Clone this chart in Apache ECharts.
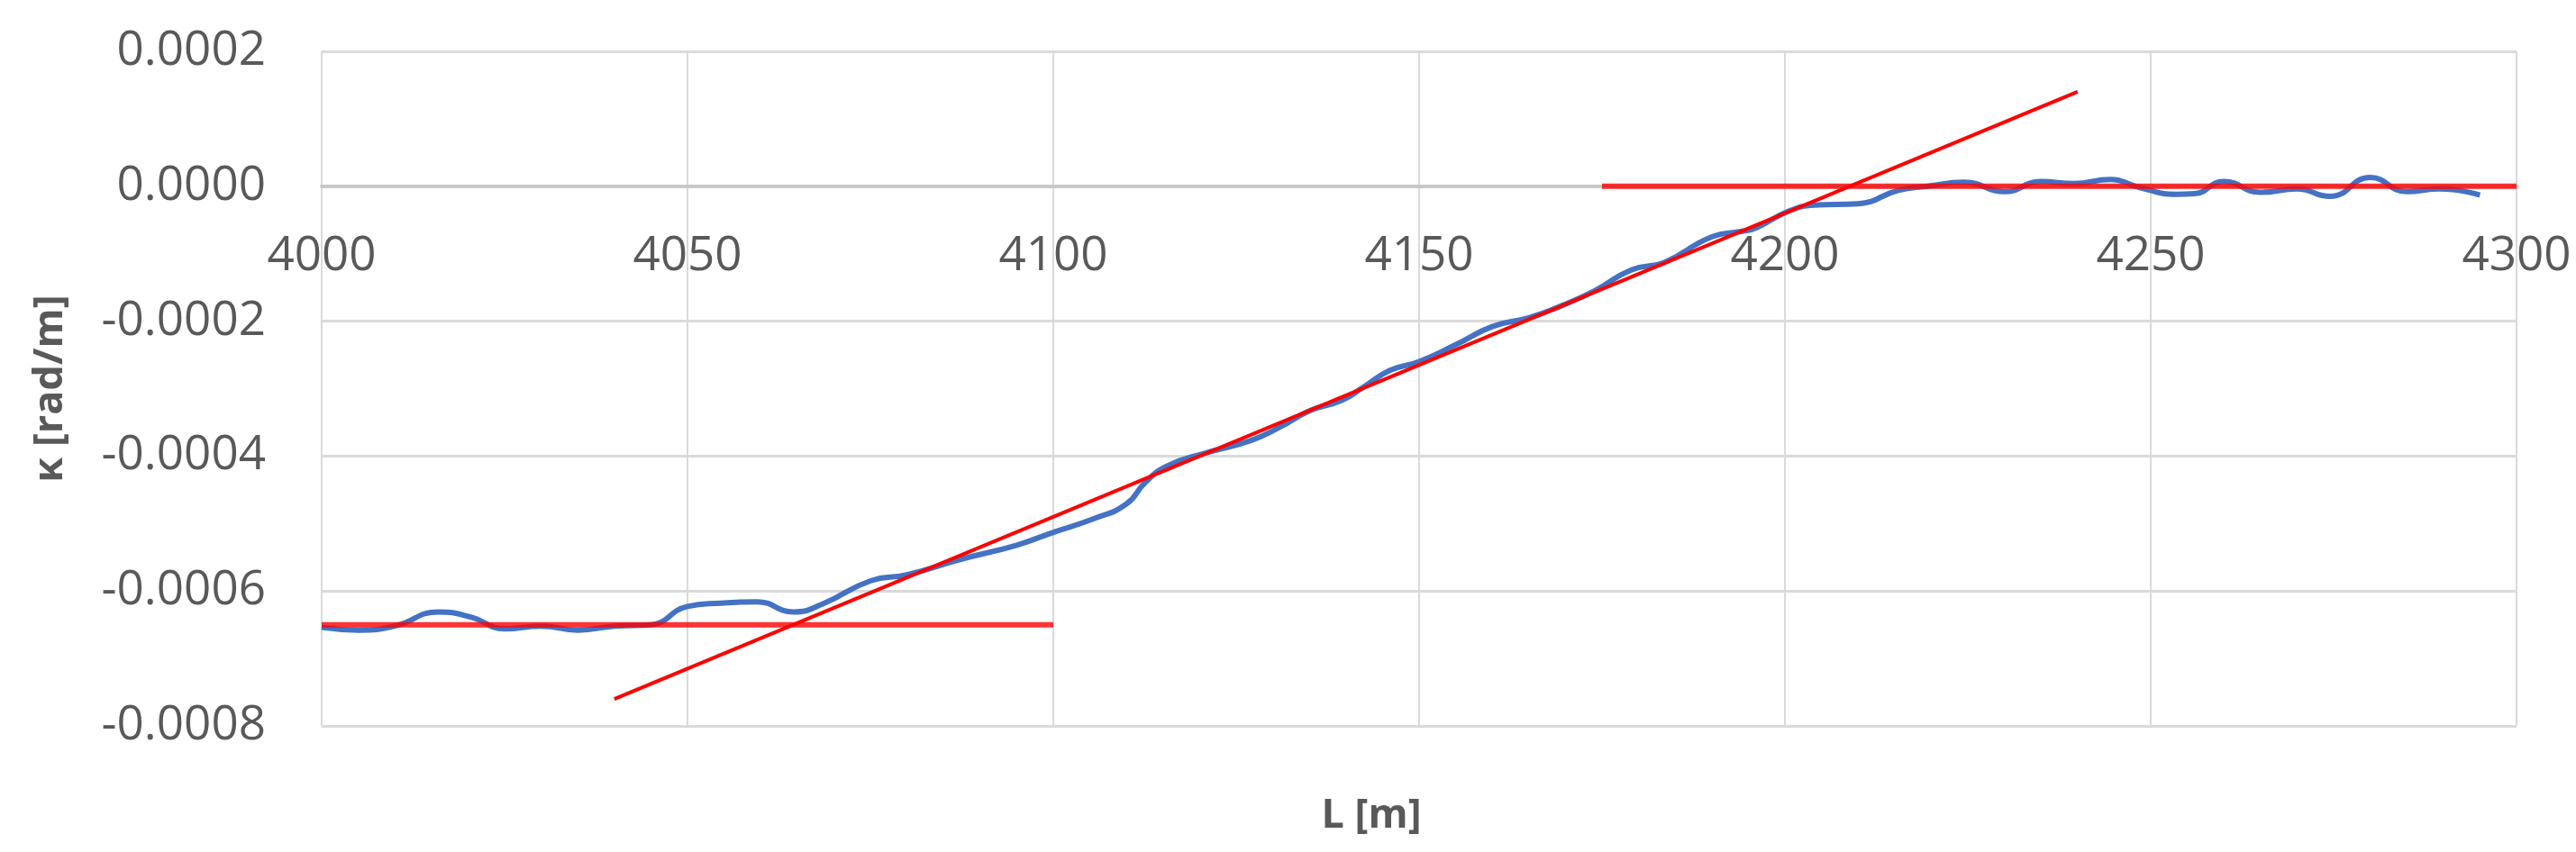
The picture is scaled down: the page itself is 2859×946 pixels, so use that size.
<!DOCTYPE html>
<html lang="en">

<head>
    <meta charset="UTF-8">
    <title>Curvature</title>
    <script src="https://cdnjs.cloudflare.com/ajax/libs/echarts/6.0.0/echarts.min.js"></script>
    <style>
        body { margin: 0; background: #fff; }
    </style>
</head>

<body>
    <div id="main" style="width: 2859px;height:946px;"></div>

    <script>
        // measured curvature (blue)
        const measL = [4000, 4005, 4010, 4016, 4020.5, 4025, 4030, 4035, 4040, 4045,
            4050, 4054.5, 4059.5, 4064.5, 4068.5, 4075, 4080, 4087, 4095, 4100,
            4105.5, 4110, 4112.5, 4115.5, 4121, 4127, 4131, 4135, 4139.5, 4142.5,
            4146, 4150, 4155, 4160, 4165, 4169.5, 4174, 4179, 4183.5, 4190,
            4194, 4196, 4200.5, 4204, 4210, 4215.5, 4219.5, 4224.5, 4230, 4235,
            4239.5, 4244.5, 4248.5, 4253.5, 4256, 4260, 4265, 4270, 4274.5, 4280,
            4285, 4289.5, 4295];
        const measK = [-0.000654, -0.000658, -0.000652, -0.000631, -0.000639, -0.000656, -0.000652, -0.000658, -0.000652, -0.00065,
            -0.000623, -0.000618, -0.000616, -0.000631, -0.000619, -0.000585, -0.000576, -0.000554, -0.000532, -0.000513,
            -0.000493, -0.000471, -0.00044, -0.000415, -0.000395, -0.000377, -0.000357, -0.000333, -0.000317, -0.000297,
            -0.000273, -0.00026, -0.000235, -0.000208, -0.000195, -0.000177, -0.000155, -0.000124, -0.000113, -0.000075,
            -0.000067, -0.000062, -0.000037, -0.000028, -0.000026, -0.000006, 0, 0.000006, -0.000008, 0.000007,
            0.000004, 0.00001, -0.000002, -0.000012, -0.000011, 0.000007, -0.000009, -0.000004, -0.000015, 0.000013,
            -0.000008, -0.000004, -0.000013];

        // fitted red lines
        const fitLeftL = [4000, 4100];
        const fitLeftK = [-0.00065, -0.00065];
        const fitRampL = [4040, 4240];
        const fitRampK = [-0.00076, 0.00014];
        const fitRightL = [4175, 4300];
        const fitRightK = [0, 0];

        const xTicks = { min: 4000, max: 4300, step: 50 };
        const yTicks = { min: -0.0008, max: 0.0002, step: 0.0002 };

        function pairs(xs, ys) {
            return xs.map((x, i) => [x, ys[i]]);
        }

        const font = '"Open Sans", "Liberation Sans", sans-serif';
        const myChart = echarts.init(document.getElementById('main'));

        // grid geometry; the x axis is lifted up to the zero line (Excel style)
        const gridTop = 57, gridBottom = 140;
        const gridH = 946 - gridTop - gridBottom;
        const zeroLift = gridH * (0 - yTicks.min) / (yTicks.max - yTicks.min);

        let option = {
            animation: false,
            grid: { left: 357, right: 66, top: gridTop, bottom: gridBottom },
            xAxis: {
                type: 'value',
                min: xTicks.min,
                max: xTicks.max,
                interval: xTicks.step,
                offset: -zeroLift,
                axisLine: { onZero: false, lineStyle: { color: '#c8c8c8', width: 4 } },
                axisTick: { show: false },
                axisLabel: {
                    color: '#595959', fontSize: 53, fontFamily: font, margin: 52,
                    formatter: v => String(v)
                },
                splitLine: { show: true, lineStyle: { color: '#dadada', width: 2 } }
            },
            yAxis: {
                type: 'value',
                min: yTicks.min,
                max: yTicks.max,
                interval: yTicks.step,
                axisLine: { show: false },
                axisTick: { show: false },
                axisLabel: {
                    color: '#595959', fontSize: 53, fontFamily: font, margin: 62,
                    formatter: v => (Math.abs(v) < 1e-12 ? 0 : v).toFixed(4)
                },
                splitLine: { show: true, lineStyle: { color: '#dadada', width: 3 } },
                name: 'κ [rad/m]',
                nameLocation: 'middle',
                nameGap: 278,
                nameTextStyle: { color: '#595959', fontSize: 45, fontWeight: 'bold', fontFamily: font }
            },
            graphic: [{
                type: 'text',
                style: {
                    x: 1522, y: 906, text: 'L [m]', align: 'center', verticalAlign: 'middle',
                    fill: '#595959', font: 'bold 45px ' + font
                }
            }],
            series: [
                {
                    type: 'line', data: pairs(measL, measK), showSymbol: false, smooth: true, z: 2,
                    lineStyle: { color: '#4472c4', width: 6 }
                },
                {
                    type: 'line', data: pairs(fitLeftL, fitLeftK), showSymbol: false, z: 3,
                    lineStyle: { color: '#ff0000', width: 6, opacity: 0.8 }
                },
                {
                    type: 'line', data: pairs(fitRightL, fitRightK), showSymbol: false, z: 3,
                    lineStyle: { color: '#ff0000', width: 6, opacity: 0.8 }
                },
                {
                    type: 'line', data: pairs(fitRampL, fitRampK), showSymbol: false, z: 4,
                    lineStyle: { color: '#ff0000', width: 4 }
                }
            ]
        };

        myChart.setOption(option);
    </script>
</body>

</html>
